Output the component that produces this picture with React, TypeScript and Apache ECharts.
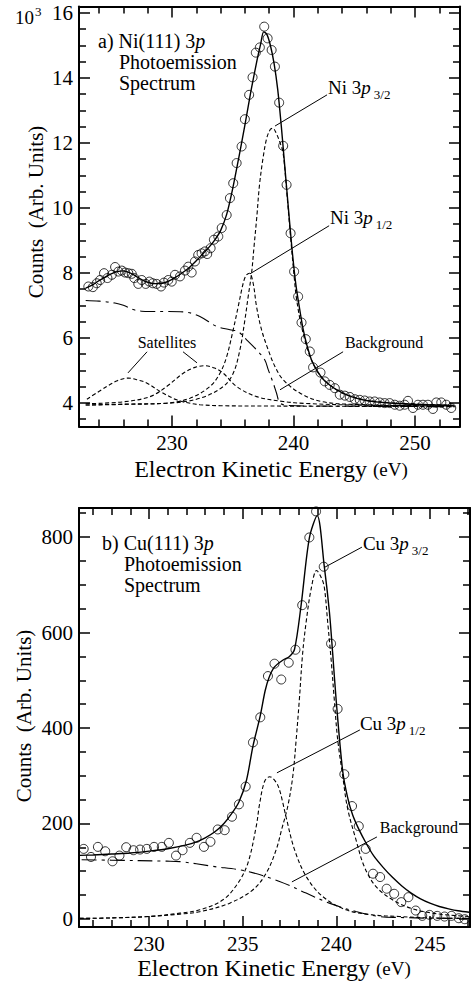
import { useEffect, useRef } from "react";
import * as echarts from "echarts";

const SERIF = "Liberation Serif";

// ---------- a) Ni(111) 3p : kinetic energy (eV), counts (10^3) ----------
const niMeasured = [
  [223.12, 7.58], [223.49, 7.56], [223.81, 7.68], [224.09, 7.78], [224.41, 7.99], [224.69, 7.84],
  [225.05, 7.94], [225.32, 8.18], [225.59, 8.04], [225.87, 8.07], [226.14, 8.01], [226.41, 7.99],
  [226.69, 7.97], [226.9, 7.84], [227.23, 7.66], [227.51, 7.78], [227.84, 7.66], [228.14, 7.73],
  [228.42, 7.68], [228.74, 7.66], [229.1, 7.58], [229.34, 7.7], [229.7, 7.78], [229.98, 7.73],
  [230.25, 7.94], [230.66, 7.89], [231.07, 8.07], [231.34, 8.19], [231.62, 8.01], [231.89, 8.35],
  [232.16, 8.55], [232.44, 8.6], [232.71, 8.66], [232.9, 8.58], [233.18, 8.76], [233.45, 9.02],
  [233.81, 9.12], [234.09, 9.38], [234.5, 9.78], [234.77, 10.3], [235.04, 10.76], [235.32, 11.38],
  [235.73, 11.89], [236.0, 12.73], [236.35, 13.48], [236.63, 14.02], [236.9, 14.78], [237.23, 14.94],
  [237.59, 15.58], [237.87, 15.22], [238.2, 14.86], [238.47, 14.35], [238.82, 13.24], [239.15, 11.91],
  [239.43, 10.71], [239.76, 9.22], [240.05, 8.04], [240.38, 7.27], [240.66, 6.47], [241.01, 5.96],
  [241.34, 5.58], [241.61, 5.09], [242.22, 4.93], [242.57, 4.66], [242.98, 4.55], [243.4, 4.45],
  [243.81, 4.25], [244.22, 4.22], [244.63, 4.18], [245.04, 4.11], [245.45, 4.09], [245.86, 4.07],
  [246.27, 4.04], [246.68, 4.04], [247.09, 4.01], [247.5, 3.99], [247.91, 3.99], [248.33, 3.94],
  [248.74, 3.91], [249.15, 3.94], [249.42, 4.06], [249.83, 3.84], [250.24, 3.94], [250.65, 3.94],
  [251.06, 3.94], [251.47, 3.81], [251.75, 4.01], [252.16, 4.01], [252.57, 3.94], [252.98, 3.84],
];

const niFit = [
  [222.9, 7.53], [223.5, 7.64], [224, 7.76], [224.5, 7.87], [225, 7.97], [225.5, 8.04], [226, 8.06],
  [226.5, 8.01], [227, 7.91], [227.5, 7.79], [228, 7.71], [228.5, 7.67], [229, 7.67], [229.5, 7.71],
  [230, 7.8], [230.5, 7.91], [231, 8.04], [231.5, 8.19], [232, 8.37], [232.5, 8.57], [233, 8.77],
  [233.5, 9.0], [234, 9.3], [234.5, 9.8], [235, 10.6], [235.5, 11.55], [236, 12.55], [236.5, 13.6],
  [237, 14.55], [237.3, 15.05], [237.55, 15.42], [237.8, 15.35], [238.1, 15.0], [238.4, 14.45],
  [238.7, 13.65], [239, 12.5], [239.3, 11.2], [239.6, 9.9], [239.9, 8.65], [240.2, 7.62], [240.5, 6.9],
  [240.8, 6.25], [241.1, 5.78], [241.5, 5.3], [242, 4.95], [242.5, 4.7], [243, 4.54], [243.5, 4.41],
  [244, 4.31], [244.5, 4.23], [245, 4.16], [246, 4.07], [247, 4.02], [248, 3.99], [249, 3.97],
  [250, 3.95], [251, 3.94], [252, 3.93], [253, 3.92],
];

const ni3p32 = [
  [222.9, 3.93], [226, 3.96], [229.84, 3.99], [232.3, 4.14], [234.22, 4.5], [235.04, 4.91],
  [235.59, 5.63], [236.0, 6.55], [236.27, 7.27], [236.55, 7.99], [236.75, 8.8], [236.98, 9.72],
  [237.2, 10.7], [237.5, 11.55], [237.8, 12.15], [238.1, 12.42], [238.3, 12.45], [238.55, 12.32],
  [238.85, 12.05], [239.14, 11.7], [239.43, 10.55], [239.76, 9.1], [240.05, 7.9], [240.25, 7.2],
  [240.66, 6.35], [241.34, 5.45], [242.16, 4.85], [242.98, 4.55], [244, 4.3], [245, 4.17],
  [246, 4.08], [248, 4.0], [250, 3.96], [253.3, 3.92],
];

const ni3p12 = [
  [222.9, 3.93], [226, 3.95], [229.56, 3.99], [231.48, 4.14], [233.12, 4.5], [233.95, 4.91],
  [234.5, 5.42], [235.04, 6.25], [235.45, 6.96], [235.86, 7.68], [236.1, 7.92], [236.38, 7.99],
  [236.68, 7.68], [236.96, 6.96], [237.37, 6.25], [237.92, 5.63], [238.47, 5.12], [239.15, 4.71],
  [240.52, 4.3], [242.27, 4.04], [245, 3.95], [253.3, 3.9],
];

const niSatelliteA = [
  [223.0, 4.11], [224.63, 4.5], [225.5, 4.68], [226.41, 4.76], [227.2, 4.7], [227.92, 4.61],
  [229.02, 4.35], [230.39, 4.09], [231.3, 4.0], [232.3, 3.94], [234, 3.91], [238, 3.9], [253.3, 3.88],
];

const niSatelliteB = [
  [222.9, 3.97], [226, 4.03], [228.2, 4.19], [229.56, 4.5], [230.93, 4.91], [231.9, 5.09],
  [232.71, 5.14], [233.5, 5.07], [234.22, 4.91], [235.32, 4.5], [236.96, 4.19], [239.15, 4.04],
  [241, 3.98], [245, 3.93], [253.3, 3.9],
];

const niBackground = [
  [222.9, 7.15], [224, 7.13], [225.3, 7.07], [226, 7.0], [226.8, 6.87], [227.5, 6.82], [228.2, 6.81],
  [229.56, 6.81], [230.93, 6.8], [232.3, 6.66], [233.67, 6.35], [234.77, 6.25], [235.45, 6.19],
  [236.14, 5.94], [236.96, 5.63], [237.64, 5.32], [237.92, 5.02], [238.33, 4.61], [238.6, 4.3],
  [238.88, 4.0], [239.5, 3.92], [242, 3.9], [253.3, 3.88],
];

const niXMajor = [230, 240, 250];
const niXMinor = [224, 226, 228, 232, 234, 236, 238, 242, 244, 246, 248, 252];
const niYMajor = [4, 6, 8, 10, 12, 14, 16];
const niYMinor = [3.5, 4.5, 5, 5.5, 6.5, 7, 7.5, 8.5, 9, 9.5, 10.5, 11, 11.5, 12.5, 13, 13.5, 14.5, 15, 15.5];

// ---------- b) Cu(111) 3p : kinetic energy (eV), counts ----------
const cuMeasured = [
  [226.51, 146.7], [226.9, 129.8], [227.27, 150.9], [227.66, 141.7], [228.05, 120.7], [228.42, 132.6],
  [228.78, 150.2], [229.17, 143.9], [229.52, 145.3], [229.88, 146.7], [230.27, 150.9], [230.68, 150.9],
  [231.06, 159.3], [231.44, 132.6], [231.79, 143.9], [232.18, 159.3], [232.54, 169.9], [232.93, 150.9],
  [233.28, 161.5], [233.67, 187.4], [234.04, 185.9], [234.43, 214.1], [234.8, 240], [235.16, 277.2],
  [235.55, 369.8], [235.94, 422.4], [236.35, 508.8], [236.7, 534.7], [237.06, 501.6], [237.46, 536.8],
  [237.82, 564], [238.18, 657.4], [238.56, 799.3], [238.92, 853.8], [239.33, 738], [239.72, 576.8],
  [240.07, 440], [240.43, 303.1], [240.84, 236.4], [241.2, 194.3], [241.57, 146.7], [241.96, 94.7],
  [242.34, 87.7], [242.69, 63.2], [243.09, 52.6], [243.47, 35.1], [243.85, 45.5], [244.24, 17.5],
  [244.59, 6.3], [244.98, 8.4], [245.39, 6.3], [245.78, 4.9], [246.15, 6.3], [246.54, 1.4], [246.86, -0.7],
];

const cuFit = [
  [226.3, 133], [227, 134], [228, 136], [229, 138], [230, 142], [231, 147], [232, 155], [232.5, 161],
  [233, 170], [233.5, 182], [234, 200], [234.4, 220], [234.8, 245], [235.2, 290], [235.55, 362],
  [235.94, 426], [236.2, 478], [236.4, 505], [236.7, 528], [237.14, 542], [237.5, 550], [237.77, 565],
  [238.12, 657], [238.56, 798], [238.98, 845], [239.36, 738], [239.63, 644], [239.8, 560], [240.0, 455],
  [240.34, 310], [240.6, 255], [240.87, 218], [241.2, 188], [241.6, 158], [242, 132], [242.5, 108],
  [243, 87], [243.5, 69], [244, 54], [244.5, 42], [245, 33], [245.5, 26], [246, 21], [246.5, 17], [247.1, 14],
];

const cu3p32 = [
  [226.3, 1], [228, 2], [230, 5], [231.65, 10], [232.71, 15], [234.31, 33], [235.55, 61], [236.26, 96],
  [236.79, 145], [237.1, 190], [237.41, 236], [237.68, 300], [237.86, 377], [238.03, 461], [238.2, 555],
  [238.39, 622], [238.66, 692], [238.95, 730], [239.2, 715], [239.36, 695], [239.54, 622], [239.72, 545],
  [239.89, 461], [240.07, 377], [240.34, 300], [240.6, 232], [241.05, 166], [241.49, 110], [242.11, 68],
  [243, 40], [244, 22], [245, 13], [246, 8], [247.1, 5],
];

const cu3p12 = [
  [226.3, 1], [228, 2], [230, 5], [231.65, 12], [232.71, 19], [233.95, 40], [234.75, 75], [235.28, 117],
  [235.73, 195], [235.9, 240], [236.17, 288], [236.44, 298], [236.79, 286], [236.97, 270], [237.14, 244],
  [237.32, 213], [237.77, 145], [238.39, 89], [239.27, 47], [240.52, 19], [241.93, 8.4], [243.35, 5],
  [245, 2], [247.1, 1],
];

const cuBackground = [
  [226.4, 124], [228, 123], [230.94, 121], [231.65, 120], [233.42, 110], [235.2, 100], [236.97, 78.5],
  [238.39, 54], [239.63, 33], [241.05, 15.4], [242.29, 5], [243.35, 3], [245.1, 1.4], [247.1, 1],
];

const cuXMajor = [230, 235, 240, 245];
const cuXMinor = [227, 228, 229, 231, 232, 233, 234, 236, 237, 238, 239, 241, 242, 243, 244, 246, 247];
const cuYMajor = [0, 200, 400, 600, 800];
const cuYMinor = [50, 100, 150, 250, 300, 350, 450, 500, 550, 650, 700, 750, 850];

// ---------- axis helpers ----------
const BLACK = "#000";
const tickFont = { fontFamily: SERIF, fontSize: 21, color: BLACK };

function axis(kind: "x" | "y", grid: number, min: number, max: number, position: string,
  ticks: number[], len: number, labels: number[] | null, line: boolean) {
  return {
    type: "value",
    gridIndex: grid,
    min,
    max,
    position,
    axisLine: { show: line, onZero: false, lineStyle: { color: BLACK, width: 2 } },
    axisTick: { show: true, inside: true, length: len, customValues: ticks, lineStyle: { color: BLACK, width: 1.5 } },
    axisLabel: labels
      ? { show: true, customValues: labels, margin: 6, lineHeight: 21, ...tickFont }
      : { show: false },
    splitLine: { show: false },
  };
}

function boxAxes(grid: number, xr: number[], yr: number[], xMaj: number[], xMin: number[], yMaj: number[], yMin: number[]) {
  const xs = [
    axis("x", grid, xr[0], xr[1], "bottom", xMaj, 11, xMaj, true),
    axis("x", grid, xr[0], xr[1], "bottom", xMin, 7, null, false),
    axis("x", grid, xr[0], xr[1], "top", xMaj, 11, null, true),
    axis("x", grid, xr[0], xr[1], "top", xMin, 7, null, false),
  ];
  const ys = [
    axis("y", grid, yr[0], yr[1], "left", yMaj, 11, yMaj, true),
    axis("y", grid, yr[0], yr[1], "left", yMin, 7, null, false),
    axis("y", grid, yr[0], yr[1], "right", yMaj, 11, null, true),
    axis("y", grid, yr[0], yr[1], "right", yMin, 7, null, false),
  ];
  return { xs, ys };
}

function panelSeries(axisIdx: number, measured: number[][], fit: number[][], peaks: number[][][], bg: number[][]) {
  const base = { xAxisIndex: axisIdx, yAxisIndex: axisIdx, silent: true };
  const out: any[] = [];
  peaks.forEach((p) => out.push({
    ...base, type: "line", data: p, showSymbol: false, smooth: 0.35,
    lineStyle: { color: BLACK, width: 1.1, type: [4, 2.5] }, z: 2,
  }));
  out.push({
    ...base, type: "line", data: bg, showSymbol: false, smooth: 0.35,
    lineStyle: { color: BLACK, width: 1.1, type: [15, 5, 3, 5] }, z: 2,
  });
  out.push({
    ...base, type: "line", data: fit, showSymbol: false, smooth: 0.3,
    lineStyle: { color: BLACK, width: 1.4 }, z: 3,
  });
  out.push({
    ...base, type: "scatter", data: measured, symbol: "circle", symbolSize: 9,
    itemStyle: { color: "rgba(0,0,0,0)", borderColor: BLACK, borderWidth: 1 }, z: 4,
  });
  return out;
}

const RICH: any = {
  i: { fontStyle: "italic", fontFamily: SERIF, fontSize: 20, fill: BLACK },
  il: { fontStyle: "italic", fontFamily: SERIF, fontSize: 19, fill: BLACK },
  s: { fontFamily: SERIF, fontSize: 13, fill: BLACK, padding: [14, 0, 0, 3] },
  sup: { fontFamily: SERIF, fontSize: 13, fill: BLACK, padding: [0, 0, 12, 1] },
  u: { fontFamily: SERIF, fontSize: 19, fill: BLACK },
};

function text(x: number, y: number, t: string, size: number, extra: any = {}) {
  return {
    type: "text", x, y, silent: true, z: 10,
    style: { text: t, fill: BLACK, fontFamily: SERIF, fontSize: size, align: "left", verticalAlign: "middle", rich: RICH, ...extra },
  };
}

function seg(a: number[], b: number[]) {
  return { type: "line", silent: true, z: 10, shape: { x1: a[0], y1: a[1], x2: b[0], y2: b[1] }, style: { stroke: BLACK, lineWidth: 1 } };
}

export default function App() {
  const ref = useRef<HTMLDivElement>(null);

  useEffect(() => {
    const chart = echarts.init(ref.current!, null, { renderer: "svg" });
    const top = boxAxes(0, [222.35, 253.7], [3.27, 16.2], niXMajor, niXMinor, niYMajor, niYMinor);
    const bot = boxAxes(1, [226.26, 247.14], [-17, 861], cuXMajor, cuXMinor, cuYMajor, cuYMinor);

    chart.setOption({
      animation: false,
      backgroundColor: "#fff",
      textStyle: { fontFamily: SERIF },
      grid: [
        { left: 79, top: 6.5, width: 381, height: 420 },
        { left: 79, top: 508, width: 391, height: 419 },
      ],
      xAxis: [...top.xs, ...bot.xs],
      yAxis: [...top.ys, ...bot.ys],
      series: [
        ...panelSeries(0, niMeasured, niFit, [ni3p32, ni3p12, niSatelliteA, niSatelliteB], niBackground),
        ...panelSeries(4, cuMeasured, cuFit, [cu3p32, cu3p12], cuBackground),
      ],
    });

    const pa = (x: number, y: number) => chart.convertToPixel({ xAxisIndex: 0, yAxisIndex: 0 }, [x, y]) as number[];
    const pb = (x: number, y: number) => chart.convertToPixel({ xAxisIndex: 4, yAxisIndex: 4 }, [x, y]) as number[];

    const g: any[] = [];
    // panel a
    g.push(text(15, 17, "10{sup|3}", 19));
    g.push(text(98, 41, "a) Ni(111) 3{i|p}", 20));
    g.push(text(119, 62, "Photoemission", 20));
    g.push(text(119, 83, "Spectrum", 20));
    g.push({ ...text(36, 212, "Counts  (Arb. Units)", 21, { align: "center" }), rotation: Math.PI / 2 });
    g.push(text(271, 469, "Electron Kinetic Energy {u|(eV)}", 24, { align: "center" }));
    const l32 = pa(242.84, 13.72);
    g.push(text(l32[0], l32[1], "Ni 3{il|p}{s|3/2}", 19));
    g.push(seg(pa(242.76, 13.48), pa(238.48, 12.52)));
    const l12 = pa(243.0, 9.69);
    g.push(text(l12[0], l12[1], "Ni 3{il|p}{s|1/2}", 19));
    g.push(seg(pa(242.93, 9.45), pa(236.42, 7.97)));
    const sat = pa(229.59, 5.85);
    g.push(text(sat[0], sat[1], "Satellites", 16, { align: "center" }));
    g.push(seg(pa(227.95, 5.57), pa(226.38, 4.92)));
    g.push(seg(pa(230.91, 5.57), pa(232.06, 5.23)));
    const bga = pa(247.45, 5.85);
    g.push(text(bga[0], bga[1], "Background", 16, { align: "center" }));
    g.push(seg(pa(244.08, 5.57), pa(238.89, 4.4)));

    // panel b
    g.push(text(102, 543, "b) Cu(111) 3{i|p}", 20));
    g.push(text(124, 564, "Photoemission", 20));
    g.push(text(124, 585, "Spectrum", 20));
    g.push({ ...text(24, 716, "Counts  (Arb. Units)", 21, { align: "center" }), rotation: Math.PI / 2 });
    g.push(text(274, 968, "Electron Kinetic Energy {u|(eV)}", 24, { align: "center" }));
    const c32 = pb(241.42, 787);
    g.push(text(c32[0], c32[1], "Cu 3{il|p}{s|3/2}", 19));
    g.push(seg(pb(241.37, 779), pb(239.39, 737)));
    const c12 = pb(241.26, 410);
    g.push(text(c12[0], c12[1], "Cu 3{il|p}{s|1/2}", 19));
    g.push(seg(pb(241.26, 396), pb(236.83, 306)));
    const bgb = pb(244.41, 190.6);
    g.push(text(bgb[0], bgb[1], "Background", 16, { align: "center" }));
    g.push(seg(pb(242.17, 171.7), pb(237.63, 77.5)));

    chart.setOption({ graphic: g });
    return () => chart.dispose();
  }, []);

  return (
    <div
      ref={ref}
      style={{ position: "absolute", left: 0, top: 0, width: 471, height: 982, background: "#fff" }}
    />
  );
}
